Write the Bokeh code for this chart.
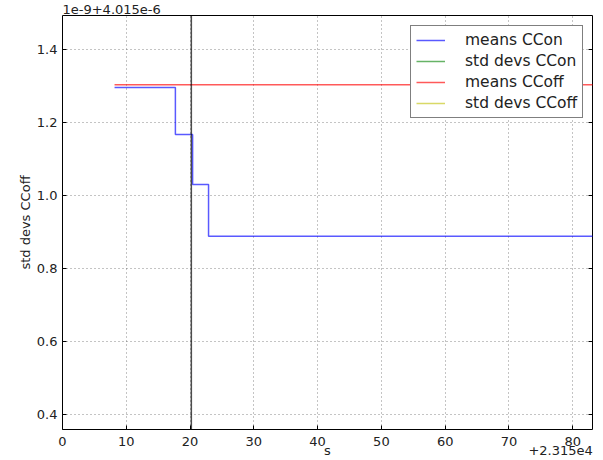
from bokeh.plotting import figure
from bokeh.models import (Range1d, FixedTicker, PrintfTickFormatter, Span,
                          Legend, LegendItem, LinearAxis)
from bokeh.embed import file_html
from bokeh.resources import INLINE

nan = float("nan")

# time axis is offset by +2.315e4 s, values offset by 4.015e-6 and scaled by 1e-9
means_ccon_t = [8.16, 17.7, 20.4, 22.9, 83.2]
means_ccon = [1.296, 1.167, 1.030, 0.888, 0.888]
std_ccon_t = [8.16, 83.2]
std_ccon = [nan, nan]
means_ccoff_t = [8.16, 83.2]
means_ccoff = [1.303, 1.303]
std_ccoff_t = [8.16, 83.2]
std_ccoff = [nan, nan]
marker_t = 20.2
x_ticks = [0, 10, 20, 30, 40, 50, 60, 70, 80]
y_ticks = [0.4, 0.6, 0.8, 1.0, 1.2, 1.4]

FONT = "DejaVu Sans"
X0, X1 = 0, 83.1
Y0, Y1 = 0.359, 1.493

p = figure(width=603, height=460, output_backend="svg", toolbar_location=None,
           x_range=Range1d(X0, X1), y_range=Range1d(Y0, Y1),
           min_border_left=62, min_border_right=11, min_border_top=0, min_border_bottom=30)
p.background_fill_color = "white"
p.border_fill_color = "white"
p.outline_line_color = "black"
p.outline_line_width = 1

# offset text of the value axis, shown above the frame
p.title.text = "1e-9+4.015e-6"
p.title.align = "left"
p.title.text_font = FONT
p.title.text_font_size = "13px"
p.title.text_font_style = "normal"
p.title.text_color = "#222222"
p.title.standoff = 4
p.title.offset = 0

for ax in (p.xaxis[0], p.yaxis[0]):
    ax.major_label_text_font = FONT
    ax.major_label_text_font_size = "13px"
    ax.major_label_text_color = "#222222"
    ax.axis_label_text_font = FONT
    ax.axis_label_text_font_size = "13px"
    ax.axis_label_text_font_style = "normal"
    ax.axis_label_text_color = "#222222"
    ax.axis_line_color = None
    ax.major_tick_in = 4
    ax.major_tick_out = 0
    ax.minor_tick_line_color = None
    ax.major_tick_line_color = "black"

p.xaxis[0].ticker = FixedTicker(ticks=x_ticks)
p.xaxis[0].formatter = PrintfTickFormatter(format="%d")
p.xaxis[0].major_label_standoff = 7
p.yaxis[0].ticker = FixedTicker(ticks=y_ticks)
p.yaxis[0].formatter = PrintfTickFormatter(format="%.1f")
p.yaxis[0].axis_label = "std devs CCoff"
p.yaxis[0].axis_label_standoff = 1
p.yaxis[0].major_label_standoff = 5

# second row under the time axis: axis name and offset text
s_pos = (X0 + X1) / 2
off_pos = 78.1
bottom2 = LinearAxis(ticker=FixedTicker(ticks=[s_pos, off_pos]),
                     major_label_overrides={s_pos: "s", off_pos: "+2.315e4"},
                     major_label_text_font=FONT, major_label_text_font_size="13px",
                     major_label_text_color="#222222", major_label_standoff=-12,
                     axis_line_color=None, major_tick_line_color=None,
                     minor_tick_line_color=None)
p.add_layout(bottom2, "below")

# mirrored tick marks on the right side
right = LinearAxis(ticker=FixedTicker(ticks=y_ticks), major_label_text_font_size="0px",
                   axis_line_color=None, major_tick_in=4, major_tick_out=0,
                   minor_tick_line_color=None)
p.add_layout(right, "right")

for g, t in ((p.xgrid[0], x_ticks), (p.ygrid[0], y_ticks)):
    g.ticker = FixedTicker(ticks=t)
    g.grid_line_color = "#555555"
    g.grid_line_dash = "1 3"
    g.grid_line_alpha = 0.7

r_mean_on = p.step(means_ccon_t, means_ccon, mode="after", line_color="blue",
                   line_width=1.5, line_alpha=0.65)
r_std_on = p.line(std_ccon_t, std_ccon, line_color="green", line_width=1.5, line_alpha=0.6)
r_mean_off = p.line(means_ccoff_t, means_ccoff, line_color="red",
                    line_width=1.5, line_alpha=0.65)
r_std_off = p.line(std_ccoff_t, std_ccoff, line_color="#bfbf00", line_width=1.5, line_alpha=0.6)

p.add_layout(Span(location=marker_t, dimension="height", line_color="black",
                  line_width=1.5, line_alpha=0.7))

legend = Legend(items=[
    LegendItem(label="means CCon", renderers=[r_mean_on]),
    LegendItem(label="std devs CCon", renderers=[r_std_on]),
    LegendItem(label="means CCoff", renderers=[r_mean_off]),
    LegendItem(label="std devs CCoff", renderers=[r_std_off]),
], location=(348, 311))
legend.label_text_font = FONT
legend.label_text_font_size = "15.5px"
legend.label_text_color = "#222222"
legend.border_line_color = "black"
legend.border_line_width = 1
legend.background_fill_alpha = 1
legend.glyph_width = 29
legend.glyph_height = 18
legend.label_standoff = 20
legend.spacing = 3
legend.padding = 5
legend.margin = 0
legend.label_height = 18
p.add_layout(legend)

open("out.html", "w").write(file_html(p, INLINE))
